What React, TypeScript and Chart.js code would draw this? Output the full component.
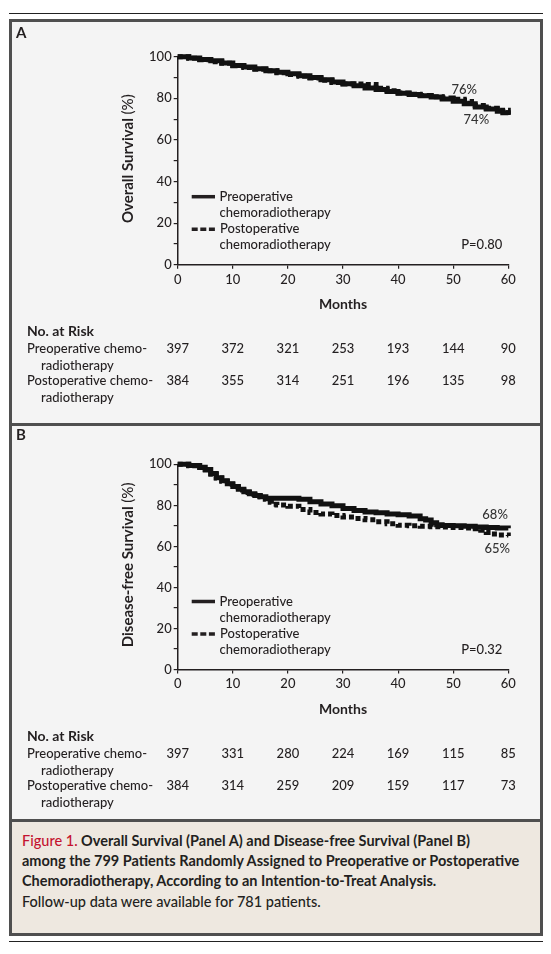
import React, { useEffect, useRef } from "react";
import { Chart, registerables } from "chart.js";
Chart.register(...registerables);

// ---------------- DATA ----------------
const riskMonths = [0, 10, 20, 30, 40, 50, 60];

// Panel A – overall survival (%)
const osPreMonths = [0, 2, 4, 6, 8, 10, 12, 14, 16, 18, 20, 22, 24, 26, 28, 30, 32, 34, 36, 38, 40, 42, 44, 46, 48, 50, 52, 54, 56, 58, 59, 60];
const osPreSurv = [100, 99.4, 98.7, 98.0, 97.0, 95.8, 95.0, 94.2, 93.3, 92.5, 91.8, 90.8, 90.0, 88.9, 87.8, 87.0, 86.0, 85.0, 84.2, 83.3, 82.4, 81.8, 81.2, 80.6, 79.7, 78.6, 77.4, 75.8, 74.8, 73.8, 73.0, 72.0];
const osPostMonths = [0, 2, 4, 6, 8, 10, 12, 14, 16, 18, 20, 22, 24, 26, 28, 30, 32, 34, 36, 38, 40, 42, 44, 46, 48, 50, 52, 53, 54, 56, 58, 60];
const osPostSurv = [100, 99.2, 98.5, 97.6, 96.8, 95.6, 94.8, 94.0, 93.2, 92.3, 91.5, 90.6, 89.8, 88.7, 87.6, 86.9, 86.9, 86.6, 84.8, 83.6, 82.5, 81.9, 81.3, 80.8, 80.2, 79.6, 79.0, 78.5, 76.5, 75.2, 74.2, 72.5];
const osRiskPre = [397, 372, 321, 253, 193, 144, 90];
const osRiskPost = [384, 355, 314, 251, 196, 135, 98];

// Panel B – disease-free survival (%)
const dfsPreMonths = [0, 2, 4, 5, 6, 7, 8, 9, 10, 11, 12, 13, 14, 15, 16, 18, 20, 22, 24, 26, 28, 30, 32, 34, 36, 38, 40, 42, 44, 45, 46, 47, 48, 50, 52, 54, 56, 58, 60];
const dfsPreSurv = [100, 99.4, 98.6, 97.5, 95.5, 93.5, 92.0, 90.5, 89.2, 87.8, 86.6, 85.6, 84.8, 84.2, 83.5, 83.5, 83.4, 83.0, 81.8, 80.6, 79.8, 78.5, 77.5, 76.8, 76.4, 75.8, 75.4, 74.8, 73.5, 72.8, 71.5, 70.6, 70.2, 70.0, 69.8, 69.5, 69.2, 69.0, 68.8];
const dfsPostMonths = [0, 2, 4, 5, 6, 7, 8, 9, 10, 11, 12, 13, 14, 15, 16, 17, 18, 20, 22, 24, 26, 28, 30, 32, 34, 36, 38, 40, 42, 44, 46, 48, 50, 52, 54, 55, 56, 57, 58, 60];
const dfsPostSurv = [100, 99.3, 98.4, 97.2, 95.2, 93.3, 91.8, 90.3, 89.0, 87.5, 86.3, 85.3, 84.2, 83.0, 81.5, 80.5, 80.2, 79.6, 78.0, 76.5, 75.8, 75.0, 74.3, 73.6, 73.0, 72.0, 71.0, 70.3, 70.0, 69.8, 69.6, 69.4, 69.2, 69.0, 68.6, 67.8, 66.8, 66.0, 65.5, 65.0];
const dfsRiskPre = [397, 331, 280, 224, 169, 115, 85];
const dfsRiskPost = [384, 314, 259, 209, 159, 117, 73];

const xTicks = [0, 10, 20, 30, 40, 50, 60];
const yTicks = [0, 20, 40, 60, 80, 100];

// ---------------- STYLE ----------------
const INK = "#231f20";
const FAM = "Lato, 'Open Sans', sans-serif";
const REG = `500 13px ${FAM}`;
const FRAME_LEFT = 12;
const FRAME_WIDTH = 528;
const PLOT_LEFT = 177.7;
const PLOT_RIGHT = 508.3;

type Pct = { text: string; m: number; v: number };
type PanelProps = {
  letter: string;
  letterY: number;
  top: number;
  height: number;
  plotTop: number;
  plotBottom: number;
  yTitle: string;
  preT: number[];
  preV: number[];
  postT: number[];
  postV: number[];
  riskPre: number[];
  riskPost: number[];
  pText: string;
  pct: Pct[];
};

function Panel(p: PanelProps) {
  const ref = useRef<HTMLCanvasElement | null>(null);
  useEffect(() => {
    const canvas = ref.current;
    if (!canvas) return;
    const W = FRAME_WIDTH;
    const H = p.height;
    const yW = 60;
    const xH = 40;
    const cl = PLOT_LEFT - FRAME_LEFT;
    const cr = PLOT_RIGHT - FRAME_LEFT;
    const ct = p.plotTop - p.top;
    const cb = p.plotBottom - p.top;

    const annot = {
      id: "annot",
      afterDraw(chart: any) {
        const { ctx, chartArea: ca, scales } = chart;
        const xs = scales.x;
        const ys = scales.y;
        ctx.save();
        ctx.fillStyle = INK;
        ctx.strokeStyle = INK;
        ctx.textBaseline = "middle";

        // panel letter
        ctx.font = `bold 15px ${FAM}`;
        ctx.textAlign = "left";
        ctx.fillText(p.letter, 16 - FRAME_LEFT, p.letterY - p.top);

        // y title (bold part + regular "(%)")
        ctx.save();
        ctx.translate(ca.left - 49.7, (ca.top + ca.bottom) / 2 - 2);
        ctx.rotate(-Math.PI / 2);
        const boldFont = `bold 15px ${FAM}`;
        const regFont = `500 15px ${FAM}`;
        ctx.font = boldFont;
        const wb = ctx.measureText(p.yTitle + " ").width;
        ctx.font = regFont;
        const wr = ctx.measureText("(%)").width;
        const x0 = -(wb + wr) / 2;
        ctx.textAlign = "left";
        ctx.font = boldFont;
        ctx.fillText(p.yTitle + " ", x0, 0);
        ctx.font = regFont;
        ctx.fillText("(%)", x0 + wb, 0);
        ctx.restore();

        // x title
        ctx.font = `bold 14px ${FAM}`;
        ctx.textAlign = "center";
        ctx.fillText("Months", (ca.left + ca.right) / 2, ca.bottom + 40);

        // legend
        const rows = [ca.bottom - 68, ca.bottom - 52, ca.bottom - 35.5, ca.bottom - 19.5];
        ctx.lineWidth = 3.5;
        ctx.beginPath();
        ctx.setLineDash([]);
        ctx.moveTo(ca.left + 14, rows[0]);
        ctx.lineTo(ca.left + 37.3, rows[0]);
        ctx.stroke();
        ctx.beginPath();
        ctx.setLineDash([6, 2.6]);
        ctx.moveTo(ca.left + 14, rows[2]);
        ctx.lineTo(ca.left + 37.3, rows[2]);
        ctx.stroke();
        ctx.setLineDash([]);
        ctx.font = REG;
        ctx.textAlign = "left";
        ctx.fillText("Preoperative", ca.left + 41.8, rows[0]);
        ctx.fillText("chemoradiotherapy", ca.left + 41.8, rows[1]);
        ctx.fillText("Postoperative", ca.left + 42.3, rows[2]);
        ctx.fillText("chemoradiotherapy", ca.left + 41.8, rows[3]);

        // P value
        ctx.textAlign = "right";
        ctx.fillText(p.pText, ca.right - 6, rows[3]);

        // percent labels
        ctx.textAlign = "center";
        ctx.fillStyle = "#333";
        for (const l of p.pct) {
          ctx.fillText(l.text, xs.getPixelForValue(l.m), ys.getPixelForValue(l.v));
        }
        ctx.fillStyle = INK;

        // number at risk table
        const lx = ca.left - 150.7;
        const ix = ca.left - 136.7;
        ctx.textAlign = "left";
        ctx.font = `bold 14px ${FAM}`;
        ctx.fillText("No. at Risk", lx, ca.bottom + 67);
        ctx.font = REG;
        ctx.fillText("Preoperative chemo-", lx, ca.bottom + 84);
        ctx.fillText("radiotherapy", ix, ca.bottom + 101);
        ctx.fillText("Postoperative chemo-", lx, ca.bottom + 116.5);
        ctx.fillText("radiotherapy", ix, ca.bottom + 133);
        ctx.textAlign = "center";
        riskMonths.forEach((m, i) => {
          const px = xs.getPixelForValue(m);
          ctx.fillText(String(p.riskPre[i]), px, ca.bottom + 84);
          ctx.fillText(String(p.riskPost[i]), px, ca.bottom + 116.5);
        });
        ctx.restore();
      },
    };

    const axisCommon = {
      type: "linear" as const,
      grid: {
        drawOnChartArea: false,
        drawTicks: true,
        tickLength: 4,
        color: INK,
        lineWidth: 1.2,
      },
      border: { display: true, color: INK, width: 1.5 },
    };

    const chart = new Chart(canvas, {
      type: "line",
      data: {
        datasets: [
          {
            label: "Preoperative chemoradiotherapy",
            data: p.preT.map((t, i) => ({ x: t, y: p.preV[i] })),
            borderColor: "#111",
            borderWidth: 5,
            stepped: "before",
            pointRadius: 0,
            fill: false,
            clip: false as any,
          },
          {
            label: "Postoperative chemoradiotherapy",
            data: p.postT.map((t, i) => ({ x: t, y: p.postV[i] })),
            borderColor: "#111",
            borderWidth: 5,
            borderDash: [5, 3],
            stepped: "before",
            pointRadius: 0,
            fill: false,
            clip: false as any,
          },
        ],
      },
      options: {
        responsive: false,
        animation: false,
        events: [],
        layout: {
          padding: { left: cl - yW, right: W - cr, top: ct, bottom: H - cb - xH },
        },
        plugins: {
          legend: { display: false },
          tooltip: { enabled: false },
          title: { display: false },
        },
        scales: {
          x: {
            ...axisCommon,
            min: 0,
            max: 60,
            afterFit: (s: any) => {
              s.height = xH;
            },
            afterBuildTicks: (s: any) => {
              s.ticks = xTicks.map((v) => ({ value: v }));
            },
            ticks: {
              color: INK,
              font: { family: FAM, size: 13, weight: "500" },
              padding: 3,
              maxRotation: 0,
              autoSkip: false,
            },
          },
          y: {
            ...axisCommon,
            min: 0,
            max: 100,
            afterFit: (s: any) => {
              s.width = yW;
            },
            ticks: {
              stepSize: 10,
              color: INK,
              font: { family: FAM, size: 13, weight: "500" },
              padding: 2,
              autoSkip: false,
              callback: (v: any) => (yTicks.includes(Number(v)) ? String(v) : ""),
            },
          },
        },
      } as any,
      plugins: [annot],
    });
    return () => chart.destroy();
  }, []);

  return (
    <canvas
      ref={ref}
      width={FRAME_WIDTH}
      height={p.height}
      style={{ position: "absolute", left: FRAME_LEFT, top: p.top, width: FRAME_WIDTH, height: p.height }}
    />
  );
}

export default function App() {
  const border = "#4f4f4f";
  return (
    <div style={{ position: "absolute", left: 0, top: 0, width: 551, height: 954, background: "#fff", fontFamily: FAM, color: INK }}>
      {/* top rule */}
      <div style={{ position: "absolute", left: 9, top: 13, width: 534, height: 1, background: "#222" }} />
      {/* frame */}
      <div style={{ position: "absolute", left: 9, top: 19, width: 534, height: 917, border: `3px solid ${border}`, boxSizing: "border-box" }} />
      {/* panel backgrounds */}
      <div style={{ position: "absolute", left: 12, top: 22, width: 528, height: 401, background: "#f4f4f4" }} />
      <div style={{ position: "absolute", left: 12, top: 423, width: 528, height: 3, background: border }} />
      <div style={{ position: "absolute", left: 12, top: 426, width: 528, height: 393, background: "#f4f4f4" }} />
      <div style={{ position: "absolute", left: 12, top: 819, width: 528, height: 3, background: border }} />
      <div style={{ position: "absolute", left: 12, top: 822, width: 528, height: 111, background: "#eee8e0" }} />
      {/* bottom rule */}
      <div style={{ position: "absolute", left: 9, top: 941, width: 534, height: 1, background: "#222" }} />

      <Panel
        letter="A"
        letterY={33.5}
        top={22}
        height={401}
        plotTop={56.7}
        plotBottom={264.7}
        yTitle="Overall Survival"
        preT={osPreMonths}
        preV={osPreSurv}
        postT={osPostMonths}
        postV={osPostSurv}
        riskPre={osRiskPre}
        riskPost={osRiskPost}
        pText="P=0.80"
        pct={[
          { text: "76%", m: 52.0, v: 84.3 },
          { text: "74%", m: 54.2, v: 69.6 },
        ]}
      />
      <Panel
        letter="B"
        letterY={435}
        top={426}
        height={393}
        plotTop={464.3}
        plotBottom={669.5}
        yTitle="Disease-free Survival"
        preT={dfsPreMonths}
        preV={dfsPreSurv}
        postT={dfsPostMonths}
        postV={dfsPostSurv}
        riskPre={dfsRiskPre}
        riskPost={dfsRiskPost}
        pText="P=0.32"
        pct={[
          { text: "68%", m: 57.6, v: 75.4 },
          { text: "65%", m: 58.0, v: 58.8 },
        ]}
      />

      {/* caption */}
      <div style={{ position: "absolute", left: 22, top: 831, width: 520, fontSize: 14.5, lineHeight: "20px", fontWeight: 700, color: INK, whiteSpace: "nowrap" }}>
        <span style={{ color: "#c4122f", fontWeight: 500 }}>Figure 1.</span> Overall Survival (Panel A) and Disease-free Survival (Panel B)
        <br />
        among the 799 Patients Randomly Assigned to Preoperative or Postoperative
        <br />
        Chemoradiotherapy, According to an Intention-to-Treat Analysis.
      </div>
      <div style={{ position: "absolute", left: 22, top: 892, fontSize: 14.5, lineHeight: "20px", fontWeight: 500, color: INK, whiteSpace: "nowrap" }}>
        Follow-up data were available for 781 patients.
      </div>
    </div>
  );
}
